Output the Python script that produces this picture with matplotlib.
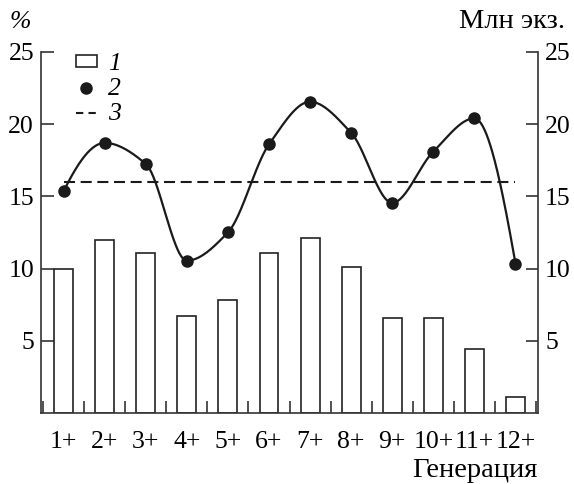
import numpy as np
import matplotlib
matplotlib.use('Agg')
import matplotlib.pyplot as plt
from matplotlib.patches import Rectangle
from matplotlib.lines import Line2D

plt.rcParams['font.family'] = ['Liberation Serif', 'DejaVu Serif']

generations = ['1+', '2+', '3+', '4+', '5+', '6+', '7+', '8+', '9+', '10+', '11+', '12+']
share_pct = [10.0, 12.0, 11.1, 6.7, 7.8, 11.1, 12.1, 10.1, 6.6, 6.6, 4.4, 1.1]
numbers_mln = [15.35, 18.7, 17.25, 10.55, 12.5, 18.6, 21.55, 19.4, 14.55, 18.1, 20.4, 10.35]
mean_mln = 16.0

FS = 18.5


def pchip(x, y, xs):
    # монотонная кубическая интерполяция (Fritsch-Carlson) для гладкой кривой
    x = np.asarray(x, float)
    y = np.asarray(y, float)
    h = np.diff(x)
    d = np.diff(y) / h
    n = len(x)
    m = np.zeros(n)
    for i in range(1, n - 1):
        if d[i - 1] * d[i] > 0:
            w1 = 2 * h[i] + h[i - 1]
            w2 = h[i] + 2 * h[i - 1]
            m[i] = (w1 + w2) / (w1 / d[i - 1] + w2 / d[i])

    def end_slope(h0, h1, d0, d1):
        s = ((2 * h0 + h1) * d0 - h0 * d1) / (h0 + h1)
        if np.sign(s) != np.sign(d0):
            s = 0.0
        elif np.sign(d0) != np.sign(d1) and abs(s) > abs(3 * d0):
            s = 3 * d0
        return s

    m[0] = end_slope(h[0], h[1], d[0], d[1])
    m[-1] = end_slope(h[-1], h[-2], d[-1], d[-2])
    out = np.empty_like(xs)
    for k, t in enumerate(xs):
        i = min(max(np.searchsorted(x, t) - 1, 0), n - 2)
        s = (t - x[i]) / h[i]
        h00 = 2 * s ** 3 - 3 * s ** 2 + 1
        h10 = s ** 3 - 2 * s ** 2 + s
        h01 = -2 * s ** 3 + 3 * s ** 2
        h11 = s ** 3 - s ** 2
        out[k] = h00 * y[i] + h10 * h[i] * m[i] + h01 * y[i + 1] + h11 * h[i] * m[i + 1]
    return out


fig = plt.figure(figsize=(5.74, 4.84), dpi=100)
ax = fig.add_axes([0.0714, 0.1467, 0.866, 0.746])
pos = np.arange(1, len(generations) + 1)

ax.bar(pos, share_pct, width=0.46, facecolor='white', edgecolor='#222222',
       linewidth=1.2, zorder=2)

xs = np.linspace(1, 12, 500)
ax.plot(xs, pchip(pos, numbers_mln, xs), color='#1a1a1a', lw=1.6, zorder=3)
ax.plot(pos, numbers_mln, 'o', color='#1a1a1a', ms=8, zorder=4)
ax.plot([1, 12], [mean_mln, mean_mln], color='#1a1a1a', lw=1.5,
        dashes=(5.3, 2.7), zorder=3)

ax.set_xlim(0.45, 12.55)
ax.set_ylim(0, 25)
ax.spines['top'].set_visible(False)
for s in ax.spines.values():
    s.set_linewidth(1.2)
    s.set_color('#333333')

ax.set_xticks(pos)
ax.set_xticklabels(generations)
ax.set_xticks(np.arange(0.5, 12.6, 1), minor=True)
ax.tick_params(axis='x', which='major', length=0, pad=13, labelsize=FS)
ax.tick_params(axis='x', which='minor', direction='in', length=9, width=1.2,
               color='#333333')
ax.set_yticks([5, 10, 15, 20, 25])
ax.tick_params(axis='y', direction='in', length=9, width=1.2, labelsize=FS,
               color='#333333', pad=5)

ax2 = ax.twinx()
ax2.set_ylim(0, 25)
ax2.set_yticks([5, 10, 15, 20, 25])
ax2.tick_params(axis='y', direction='in', length=9, width=1.2, labelsize=FS,
                color='#333333', pad=5)
for s in ax2.spines.values():
    s.set_visible(False)

fig.text(0.017, 0.955, '%', fontsize=FS, style='italic', va='center', ha='left')
fig.text(0.985, 0.955, 'Млн экз.', fontsize=20.5, va='center', ha='right')
fig.text(0.937, 0.027, 'Генерация', fontsize=20.5, va='center', ha='right')

handles = [Rectangle((0, 0), 1, 1, facecolor='white', edgecolor='#222222', lw=1.2),
           Line2D([], [], ls='none', marker='o', color='#1a1a1a', ms=8),
           Line2D([], [], color='#1a1a1a', lw=1.5, dashes=(3.5, 2.5))]
leg = ax.legend(handles, ['1', '2', '3'], loc='upper left',
                bbox_to_anchor=(0.05, 1.025), frameon=False, fontsize=FS,
                handlelength=0.8, handleheight=0.33, handletextpad=0.45,
                labelspacing=0.12, borderaxespad=0)
for t in leg.get_texts():
    t.set_style('italic')

fig.savefig('out.png', dpi=100)
